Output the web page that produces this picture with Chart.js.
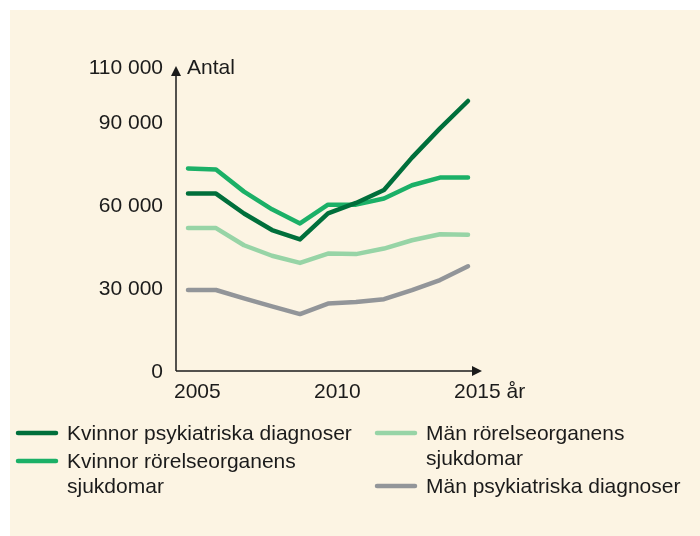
<!DOCTYPE html>
<html>
<head>
<meta charset="utf-8">
<script src="https://cdn.jsdelivr.net/npm/chart.js@4.4.1/dist/chart.umd.min.js"></script>
<style>
  html, body { margin: 0; padding: 0; background: #ffffff; }
  canvas { display: block; }
</style>
</head>
<body>
<canvas id="chart" width="700" height="536"></canvas>
<script>
// years on the x axis
const years = [2005, 2006, 2007, 2008, 2009, 2010, 2011, 2012, 2013, 2014, 2015];

// series values (antal)
const kvinnorPsyk = [64200, 64200, 57000, 51000, 47600, 57000, 60800, 65500, 77200, 87800, 97700];
const kvinnorRorelse = [73300, 72900, 64900, 58500, 53400, 60200, 60200, 62400, 67200, 70000, 70000];
const manRorelse = [51700, 51700, 45500, 41700, 39100, 42500, 42300, 44300, 47300, 49500, 49300];
const manPsyk = [29300, 29300, 26300, 23400, 20600, 24400, 25000, 26000, 29300, 32900, 37900];

// tick labels
const yTicks = [0, 30000, 60000, 90000, 110000];
const xTicks = [2005, 2010, 2015];
const xUnit = 'år';
const yUnit = 'Antal';

const seriesNames = [
  ['Kvinnor psykiatriska diagnoser'],
  ['Kvinnor rörelseorganens', 'sjukdomar'],
  ['Män rörelseorganens', 'sjukdomar'],
  ['Män psykiatriska diagnoser']
];
const colors = ['#006f3b', '#1bb067', '#97d4a6', '#929599'];

const FONT = '21px "Liberation Sans", Arial, sans-serif';
const INK = '#1b1b1b';

function fmt(v) {
  return String(v).replace(/\B(?=(\d{3})+(?!\d))/g, ' ');
}

function pts(vals) {
  return years.map((y, i) => ({ x: y, y: vals[i] }));
}

const decor = {
  id: 'decor',
  beforeDraw(chart) {
    const ctx = chart.ctx;
    ctx.save();
    ctx.fillStyle = '#ffffff';
    ctx.fillRect(0, 0, chart.width, chart.height);
    ctx.fillStyle = '#fcf4e3';
    ctx.fillRect(10, 10, chart.width - 10, chart.height - 10);
    ctx.restore();
  },
  beforeDatasetsDraw(chart) {
    const ctx = chart.ctx;
    const a = chart.chartArea;
    ctx.save();
    ctx.strokeStyle = INK;
    ctx.fillStyle = INK;
    ctx.lineWidth = 1.5;
    // y axis
    ctx.beginPath();
    ctx.moveTo(a.left, a.bottom);
    ctx.lineTo(a.left, a.top + 6);
    ctx.stroke();
    ctx.beginPath();
    ctx.moveTo(a.left, a.top - 1);
    ctx.lineTo(a.left - 5, a.top + 9);
    ctx.lineTo(a.left + 5, a.top + 9);
    ctx.closePath();
    ctx.fill();
    // x axis
    ctx.beginPath();
    ctx.moveTo(a.left, a.bottom);
    ctx.lineTo(a.right - 6, a.bottom);
    ctx.stroke();
    ctx.beginPath();
    ctx.moveTo(a.right, a.bottom);
    ctx.lineTo(a.right - 10, a.bottom - 5);
    ctx.lineTo(a.right - 10, a.bottom + 5);
    ctx.closePath();
    ctx.fill();
    ctx.restore();
  },
  afterDraw(chart) {
    const ctx = chart.ctx;
    const a = chart.chartArea;
    const xs = chart.scales.x;
    const ys = chart.scales.y;
    ctx.save();
    ctx.font = FONT;
    ctx.fillStyle = INK;
    ctx.textBaseline = 'alphabetic';

    // y tick labels
    ctx.textAlign = 'right';
    yTicks.forEach(v => {
      ctx.fillText(fmt(v), a.left - 13, ys.getPixelForValue(v) + 7);
    });
    ctx.textAlign = 'left';
    ctx.fillText(yUnit, a.left + 11, ys.getPixelForValue(yTicks[yTicks.length - 1]) + 7);

    // x tick labels
    xTicks.forEach((v, i) => {
      let t = String(v);
      if (i === xTicks.length - 1) t += ' ' + xUnit;
      ctx.fillText(t, xs.getPixelForValue(v) - 14, a.bottom + 27);
    });

    // legend
    const cols = [[0, 1], [2, 3]];
    const colX = [16, 375];
    ctx.lineCap = 'round';
    cols.forEach((idx, c) => {
      let base = 440;
      idx.forEach(k => {
        ctx.strokeStyle = colors[k];
        ctx.lineWidth = 4.5;
        ctx.beginPath();
        ctx.moveTo(colX[c] + 2, base - 7);
        ctx.lineTo(colX[c] + 40, base - 7);
        ctx.stroke();
        seriesNames[k].forEach((line, j) => {
          ctx.fillText(line, colX[c] + 51, base + j * 25);
        });
        base += (seriesNames[k].length - 1) * 25 + 28;
      });
    });
    ctx.restore();
  }
};

const datasets = [kvinnorPsyk, kvinnorRorelse, manRorelse, manPsyk].map((vals, i) => ({
  label: seriesNames[i].join(' '),
  data: pts(vals),
  borderColor: colors[i],
  backgroundColor: colors[i],
  borderWidth: 4.5,
  pointRadius: 0,
  tension: 0,
  borderCapStyle: 'round',
  borderJoinStyle: 'round',
  clip: false
}));

new Chart(document.getElementById('chart'), {
  type: 'line',
  data: { datasets },
  options: {
    responsive: false,
    animation: false,
    layout: { padding: { left: 176, right: 218, top: 67, bottom: 165 } },
    scales: {
      x: { type: 'linear', min: 2005 - 12 / 28, max: 2015.5, display: false },
      y: { min: 0, max: 110000, display: false }
    },
    plugins: {
      legend: { display: false },
      tooltip: { enabled: false }
    }
  },
  plugins: [decor]
});
</script>
</body>
</html>
